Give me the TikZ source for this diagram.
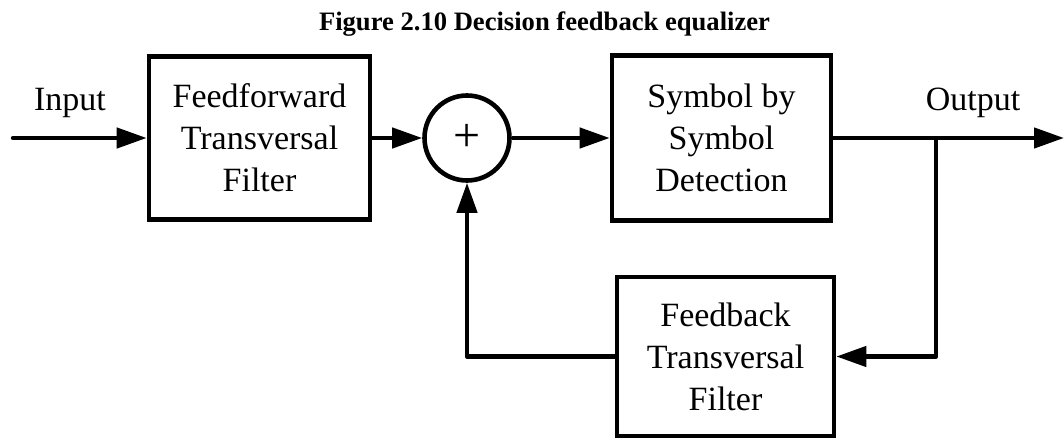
\documentclass[tikz,border=0pt]{standalone}
\usepackage{fontspec}
\setmainfont{Liberation Serif}
\usetikzlibrary{arrows.meta}
\begin{document}
\begin{tikzpicture}[x=0.5pt,y=-0.5pt,
  blk/.style={draw, line width=2.3pt, inner sep=0pt, align=center, font=\fontsize{17}{21}\selectfont},
  lbl/.style={font=\fontsize{17}{21}\selectfont, inner sep=0pt, anchor=base},
  ttl/.style={font=\fontsize{13.3}{15}\selectfont\bfseries, inner sep=0pt, anchor=base},
  sumnode/.style={draw, circle, line width=2.3pt, minimum size=42.5pt, inner sep=0pt, font=\fontsize{24}{24}\selectfont},
  sig/.style={line width=2.2pt, line join=round, -{Triangle[length=15pt,width=10pt]}}]
\useasboundingbox (0,0) rectangle (1064,438);
\node[ttl] (title) at (544.5,31) {Figure 2.10 Decision feedback equalizer};
\node[blk, minimum width=110.5pt, minimum height=81.5pt] (ff) at (259.5,138) {Feedforward\\Transversal\\Filter};
\node[sumnode] (sum) at (467,138) {+};
\node[blk, minimum width=109.5pt, minimum height=82.5pt] (sd) at (721.5,138) {Symbol by\\Symbol\\Detection};
\node[blk, minimum width=108.5pt, minimum height=79.5pt] (fb) at (725.5,356.5) {Feedback\\Transversal\\Filter};
\node[lbl] (in) at (70,110.5) {Input};
\node[lbl] (out) at (973,110.5) {Output};
\coordinate (src) at (13,138);
\coordinate (dst) at (1064,138);
\coordinate (br) at (936,138);
\draw[sig, line cap=round] (src) -- (ff.west);
\draw[sig] (ff.east) -- (sum.west);
\draw[sig] (sum.east) -- (sd.west);
\draw[sig] (sd.east) -- (dst);
\draw[sig] (br) |- (fb.east);
\draw[sig] (fb.west) -| (sum.south);
\end{tikzpicture}
\end{document}
